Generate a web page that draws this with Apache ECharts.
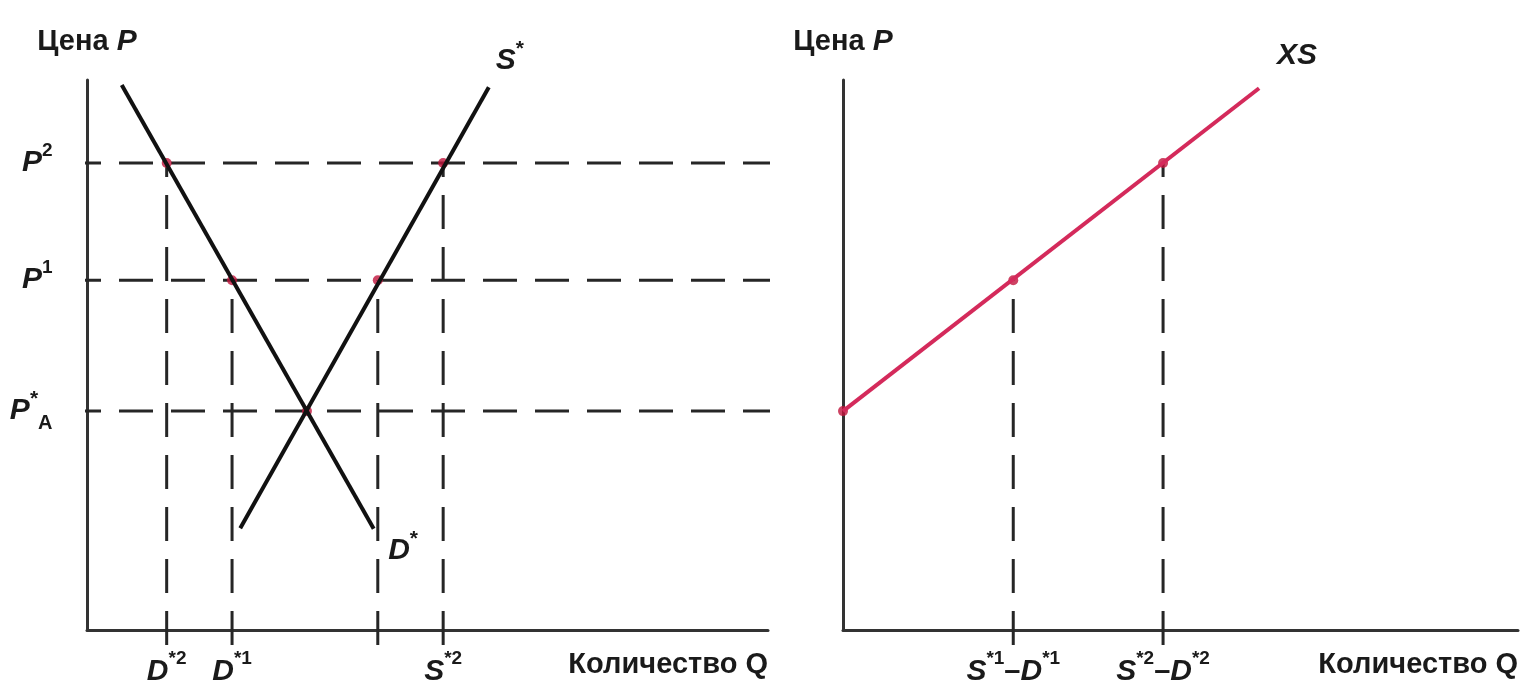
<!DOCTYPE html>
<html><head><meta charset="utf-8">
<script src="https://cdn.jsdelivr.net/npm/echarts@6/dist/echarts.min.js"></script>
<style>html,body{margin:0;padding:0;background:#fff}#c{width:1530px;height:700px}</style>
</head><body><div id="c"></div>
<script>
// ---------- data (chart units: Q on x, P on y) ----------
const priceValues   = [84.9, 63.6, 39.8];                 // P2, P1, P*A
const priceLabels   = ['{i|P}{sup|2}', '{i|P}{sup|1}', '{i|P}{ast|*}{sub|A}'];
const priceRightEnd = [47.0, 25.0, 0.0];                  // where each price line meets XS (right panel Q)
const leftQty       = [11.7, 21.3, 42.7, 52.3];           // D*2, D*1, S*1, S*2
const leftQtyPrice  = [84.9, 63.6, 63.6, 84.9];
const leftQtyLabels = ['{i|D}{sup|*2}', '{i|D}{sup|*1}', '', '{i|S}{sup|*2}'];
const rightQty       = [25.0, 47.0];                      // S*1-D*1, S*2-D*2
const rightQtyPrice  = [63.6, 84.9];
const rightQtyLabels = ['{i|S}{sup|*1}{t|\u2013}{i|D}{sup|*1}', '{i|S}{sup|*2}{t|\u2013}{i|D}{sup|*2}'];
const demandLine = [[5.1, 99.1], [42.1, 18.4]];
const supplyLine = [[22.5, 18.5], [59.0, 98.7]];
const xsLine     = [[0.0, 39.8], [61.1, 98.5]];
const autarky    = [32.3, 39.8];
const yAxisName = '{t|Цена }{i|P}';
const xAxisName = 'Количество Q';

// ---------- layout ----------
const FONT = '"Liberation Sans", Arial, Helvetica, sans-serif';
const TXT = '#1a1a1a';
const LINE = '#262626';
const RED = '#d42a5b';
const DOT = '#c0143c';
const GL = {left: 87, width: 681, top: 80, bottom: 70};
const GR = {left: 843, width: 675, top: 80, bottom: 70};
const XMAX_L = 100, YMAX = 100;
const PXU = GL.width / XMAX_L;
const XMAX_R = GR.width / PXU;
const PYU = (700 - GL.top - GL.bottom) / YMAX;
const GAP = (GR.left - (GL.left + GL.width)) / PXU;
const TICK_X = -20 / PXU;
const TICK_Y = -15 / PYU;

const rich = {
  i:   {fontFamily: FONT, fontStyle: 'italic', fontWeight: 'bold', fontSize: 30, lineHeight: 44, color: TXT},
  t:   {fontFamily: FONT, fontWeight: 'bold', fontSize: 29, lineHeight: 44, color: TXT},
  sup: {fontFamily: FONT, fontWeight: 'bold', fontSize: 19, lineHeight: 35, verticalAlign: 'top', color: TXT},
  ast: {fontFamily: FONT, fontWeight: 'bold', fontSize: 21, lineHeight: 30, verticalAlign: 'top', color: TXT},
  sub: {fontFamily: FONT, fontWeight: 'bold', fontSize: 20, lineHeight: 9, verticalAlign: 'bottom', color: TXT}
};
const dashStyle = {color: LINE, width: 3, type: [34, 18]};

function axisX(grid, max) {
  return {type: 'value', gridIndex: grid, min: 0, max: max,
    axisLine: {show: true, onZero: false, lineStyle: {color: '#333', width: 3}},
    axisTick: {show: false}, axisLabel: {show: false}, splitLine: {show: false},
    name: xAxisName, nameLocation: 'end', nameGap: 0,
    nameTextStyle: {fontFamily: FONT, fontWeight: 'bold', fontSize: 29, color: TXT, align: 'right', verticalAlign: 'top', padding: [20, 0, 0, 0]}};
}
function axisY(grid) {
  return {type: 'value', gridIndex: grid, min: 0, max: YMAX,
    axisLine: {show: true, onZero: false, lineStyle: {color: '#333', width: 3}},
    axisTick: {show: false}, axisLabel: {show: false}, splitLine: {show: false},
    name: yAxisName, nameLocation: 'end', nameGap: 16,
    nameTextStyle: {rich: rich, align: 'center'}};
}

const series = [];
// horizontal price lines (start left of left axis, run to the XS curve in right panel)
priceValues.forEach((p, k) => {
  series.push({type: 'line', xAxisIndex: 0, yAxisIndex: 0, clip: false, symbol: 'none', z: 2,
    lineStyle: dashStyle, silent: true,
    data: [[TICK_X, p], [XMAX_L + GAP + priceRightEnd[k], p]]});
});
// vertical drop lines (drawn upward from just below the axis)
leftQty.forEach((q, k) => {
  series.push({type: 'line', xAxisIndex: 0, yAxisIndex: 0, clip: false, symbol: 'none', z: 2,
    lineStyle: dashStyle, silent: true, data: [[q, TICK_Y], [q, leftQtyPrice[k]]]});
});
rightQty.forEach((q, k) => {
  series.push({type: 'line', xAxisIndex: 1, yAxisIndex: 1, clip: false, symbol: 'none', z: 2,
    lineStyle: dashStyle, silent: true, data: [[q, TICK_Y], [q, rightQtyPrice[k]]]});
});
// red intersection dots
series.push({type: 'scatter', xAxisIndex: 0, yAxisIndex: 0, symbolSize: 10, z: 3,
  itemStyle: {color: DOT},
  data: leftQty.map((q, k) => [q, leftQtyPrice[k]]).concat([autarky])});
series.push({type: 'scatter', xAxisIndex: 1, yAxisIndex: 1, symbolSize: 10, z: 3,
  itemStyle: {color: DOT},
  data: rightQty.map((q, k) => [q, rightQtyPrice[k]]).concat([[xsLine[0][0], xsLine[0][1]]])});
// curves
series.push({type: 'line', xAxisIndex: 0, yAxisIndex: 0, symbol: 'none', z: 4,
  lineStyle: {color: '#111', width: 4}, data: demandLine});
series.push({type: 'line', xAxisIndex: 0, yAxisIndex: 0, symbol: 'none', z: 4,
  lineStyle: {color: '#111', width: 4}, data: supplyLine});
series.push({type: 'line', xAxisIndex: 1, yAxisIndex: 1, symbol: 'none', z: 4, clip: false,
  lineStyle: {color: RED, width: 4}, data: xsLine});

// text labels
const hidden = {color: 'rgba(0,0,0,0)'};
function lab(pt, fmt, pos, dist, off) {
  return {value: pt, label: {show: true, formatter: fmt, position: pos, distance: dist,
    offset: off || [0, 0], color: TXT, opacity: 1, rich: rich}};
}
const leftLabels = [];
priceValues.forEach((p, k) => leftLabels.push(lab([TICK_X, p], priceLabels[k], 'left', 14)));
leftQty.forEach((q, k) => { if (leftQtyLabels[k]) leftLabels.push(lab([q, TICK_Y], leftQtyLabels[k], 'bottom', 4)); });
leftLabels.push(lab(demandLine[1], '{i|D}{ast|*}', 'right', 14, [0, 22]));
leftLabels.push(lab(supplyLine[1], '{i|S}{ast|*}', 'top', 4, [21, 0]));
series.push({type: 'scatter', xAxisIndex: 0, yAxisIndex: 0, symbolSize: 1, clip: false, z: 6,
  itemStyle: hidden, data: leftLabels, silent: true});
const rightLabels = [];
rightQty.forEach((q, k) => rightLabels.push(lab([q, TICK_Y], rightQtyLabels[k], 'bottom', 4)));
rightLabels.push(lab(xsLine[1], '{i|XS}', 'top', 10, [38, 0]));
series.push({type: 'scatter', xAxisIndex: 1, yAxisIndex: 1, symbolSize: 1, clip: false, z: 6,
  itemStyle: hidden, data: rightLabels, silent: true});

const chart = echarts.init(document.getElementById('c'), null, {renderer: 'canvas'});
chart.setOption({
  animation: false,
  backgroundColor: '#fff',
  grid: [
    {left: GL.left, width: GL.width, top: GL.top, bottom: GL.bottom},
    {left: GR.left, width: GR.width, top: GR.top, bottom: GR.bottom}
  ],
  xAxis: [axisX(0, XMAX_L), axisX(1, XMAX_R)],
  yAxis: [axisY(0), axisY(1)],
  series: series
});
</script>
</body></html>
